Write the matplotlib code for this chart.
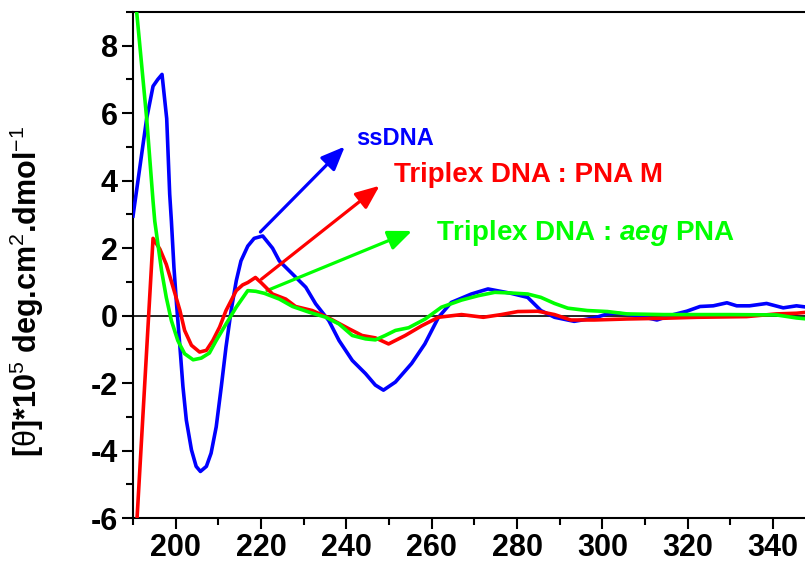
import matplotlib
matplotlib.use('Agg')
from matplotlib import pyplot as plt
from matplotlib.ticker import MultipleLocator

plt.rcParams['font.family'] = ['Liberation Sans', 'DejaVu Sans']
plt.rcParams['axes.unicode_minus'] = False
plt.rcParams['mathtext.fontset'] = 'custom'
plt.rcParams['mathtext.rm'] = 'Liberation Sans'
plt.rcParams['mathtext.it'] = 'Liberation Sans:bold:italic'
plt.rcParams['mathtext.bf'] = 'Liberation Sans:bold'

# ssDNA
ss_x = [190.0, 193.2, 194.7, 195.8, 196.8, 197.9, 198.6, 199.0, 199.6, 200.2, 201.0,
        201.7, 202.5, 203.7, 204.8, 205.8, 207.2, 208.3, 209.5, 210.7, 211.8, 213.0,
        214.2, 215.3, 216.9, 218.4, 220.4, 222.7, 224.3, 227.4, 230.5, 232.8, 235.9,
        238.3, 241.4, 244.5, 246.8, 248.7, 251.5, 255.3, 258.4, 261.6, 264.6, 269.3,
        273.2, 278.6, 282.5, 285.6, 288.8, 293.4, 298.1, 301.2, 303.5, 308.2, 312.8,
        316.7, 319.8, 322.9, 326.0, 329.2, 331.5, 334.5, 338.5, 342.4, 345.5, 348.0]
ss_y = [2.95, 5.84, 6.8, 7.0, 7.15, 5.84, 3.6, 2.8, 1.42, 0.35, -0.93,
        -2.1, -3.1, -3.98, -4.47, -4.62, -4.47, -4.08, -3.3, -2.1, -0.93, 0.15,
        1.03, 1.62, 2.06, 2.29, 2.36, 2.0, 1.62, 1.23, 0.84, 0.35, -0.15,
        -0.74, -1.33, -1.72, -2.06, -2.21, -1.97, -1.42, -0.84, -0.05, 0.39, 0.64,
        0.79, 0.66, 0.54, 0.15, -0.05, -0.17, -0.07, 0.05, 0.07, 0.0, -0.13,
        0.03, 0.13, 0.27, 0.29, 0.38, 0.29, 0.29, 0.36, 0.23, 0.29, 0.25]

# Triplex DNA : PNA M
pm_x = [190.5, 194.7, 196.3, 197.8, 199.4, 201.0, 202.1, 203.7, 205.6, 207.2, 208.7,
        210.3, 211.8, 214.2, 215.7, 216.9, 218.7, 220.0, 222.7, 225.8, 228.1, 232.0,
        235.9, 240.6, 243.7, 246.8, 249.9, 253.8, 257.7, 261.6, 267.0, 272.1, 276.3,
        280.2, 284.9, 288.8, 292.6, 298.1, 305.8, 314.0, 322.2, 333.8, 340.8, 345.5,
        348.0]
pm_y = [-7.0, 2.29, 1.97, 1.52, 0.84, 0.15, -0.44, -0.88, -1.08, -1.03, -0.74,
        -0.34, 0.15, 0.74, 0.91, 0.98, 1.13, 0.98, 0.64, 0.49, 0.27, 0.15,
        -0.07, -0.39, -0.59, -0.66, -0.84, -0.59, -0.3, -0.05, 0.03, -0.05, 0.03,
        0.12, 0.13, 0.03, -0.13, -0.13, -0.1, -0.08, -0.05, -0.03, 0.05, 0.07,
        0.1]

# Triplex DNA : aeg PNA
aeg_x = [190.0, 190.9, 193.2, 194.7, 195.1, 196.7, 197.8, 199.0, 200.5, 202.1, 204.1,
         206.0, 207.9, 209.5, 211.8, 214.2, 216.9, 218.8, 220.8, 224.3, 227.4, 231.3,
         235.2, 238.3, 241.4, 244.5, 246.8, 249.1, 251.5, 254.6, 258.5, 262.3, 267.0,
         270.9, 274.8, 278.6, 282.5, 285.6, 288.8, 291.9, 296.5, 301.2, 305.8, 314.4,
         329.9, 340.8, 345.5, 348.0]
aeg_y = [9.5, 8.95, 5.85, 3.39, 2.8, 1.33, 0.54, -0.15, -0.74, -1.13, -1.31,
         -1.26, -1.11, -0.74, -0.25, 0.25, 0.74, 0.72, 0.66, 0.49, 0.27, 0.1,
         -0.05, -0.25, -0.59, -0.69, -0.72, -0.59, -0.44, -0.36, -0.1, 0.25, 0.46,
         0.59, 0.69, 0.67, 0.64, 0.54, 0.36, 0.22, 0.15, 0.12, 0.05, 0.03,
         0.03, 0.02, -0.07, -0.1]

fig = plt.figure(figsize=(8.05, 5.64), dpi=100)
ax = fig.add_axes([133 / 805, 46 / 564, 1 - 133 / 805, 506 / 564])

ax.axhline(0, color='black', lw=1.2, zorder=1)
ax.plot(ss_x, ss_y, color='#0000FF', lw=2.6, zorder=3)
ax.plot(pm_x, pm_y, color='#FF0000', lw=2.6, zorder=4)
ax.plot(aeg_x, aeg_y, color='#00FF00', lw=2.6, zorder=5)

ax.set_xlim(190, 347.5)
ax.set_ylim(-6, 9)
ax.xaxis.set_major_locator(MultipleLocator(20))
ax.xaxis.set_minor_locator(MultipleLocator(10))
ax.yaxis.set_major_locator(MultipleLocator(2))
ax.yaxis.set_minor_locator(MultipleLocator(1))
ax.tick_params(which='major', direction='out', length=8, width=1.5, labelsize=22, pad=3)
ax.tick_params(which='minor', direction='out', length=5, width=1.5)
for lab in ax.get_xticklabels() + ax.get_yticklabels():
    lab.set_fontweight('bold')
ax.spines['right'].set_visible(False)
for s in ['left', 'bottom', 'top']:
    ax.spines[s].set_linewidth(1.5)

ax.set_ylabel(r'[$\mathrm{\theta}$]*10$^{5}$ deg.cm$^{2}$.dmol$^{-1}$', fontsize=22, fontweight='bold')
ax.yaxis.set_label_coords(-0.13, 0.447)

# arrows and labels
arr = '-|>,head_length=0.6,head_width=0.25'
ax.annotate('', xy=(240.1, 5.07), xytext=(219.4, 2.42),
            arrowprops=dict(arrowstyle=arr, color='#0000FF', lw=2.3, mutation_scale=24))
ax.annotate('', xy=(248.3, 3.9), xytext=(219.6, 1.03),
            arrowprops=dict(arrowstyle=arr, color='#FF0000', lw=2.3, mutation_scale=24))
ax.annotate('', xy=(256.0, 2.54), xytext=(220.8, 0.71),
            arrowprops=dict(arrowstyle=arr, color='#00FF00', lw=2.3, mutation_scale=24))

ax.text(242.4, 5.07, 'ssDNA', color='#0000FF', fontsize=17, fontweight='bold', va='baseline')
ax.text(251.1, 3.95, 'Triplex DNA : PNA M', color='#FF0000', fontsize=20, fontweight='bold',
        va='baseline')
ax.text(260.9, 2.24, r'Triplex DNA : $\it{aeg}$ PNA', color='#00FF00', fontsize=20,
        fontweight='bold', va='baseline')

fig.savefig('out.png', dpi=100)
